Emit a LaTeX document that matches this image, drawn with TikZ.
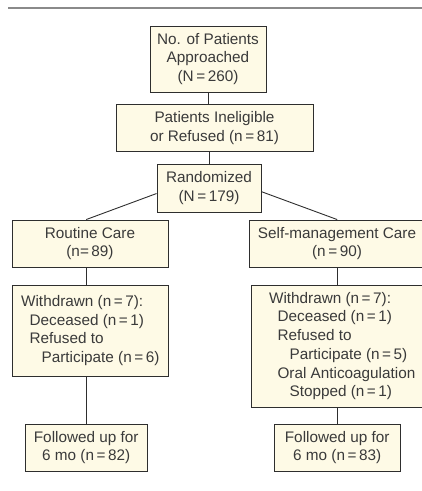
\documentclass[tikz,border=0pt]{standalone}
\usepackage{fontspec}
\setmainfont{Liberation Sans}
\usetikzlibrary{positioning}

\definecolor{boxfill}{HTML}{FEFAE6}
\definecolor{boxline}{HTML}{2E2E2E}
\definecolor{textgray}{HTML}{3A3A3A}
\definecolor{rulegray}{HTML}{8A8A8A}

\newcommand{\indA}{\hspace*{8.5pt}}
\newcommand{\indB}{\hspace*{20.5pt}}

\begin{document}
\begin{tikzpicture}[
  x=1pt, y=-1pt,
  font=\fontsize{15.3}{18.7}\selectfont,
  text=textgray,
  box/.style={draw=boxline, fill=boxfill, line width=0.9pt, align=center, inner sep=0pt},
  listbox/.style={box, align=left},
  link/.style={draw=boxline, line width=0.9pt}
]
\useasboundingbox (0,0) rectangle (422,491);

% rule on top
\draw[rulegray, line width=1.5pt] (8,8) -- (422,8);

\node[box, minimum width=116pt, minimum height=66pt] (approached) at (208,59)
  {No. of Patients\\Approached\\(N\,=\,260)};
\node[box, minimum width=197pt, minimum height=47pt] (ineligible) at (214.5,128)
  {Patients Ineligible\\or Refused (n\,=\,81)};
\node[box, minimum width=104pt, minimum height=48pt] (randomized) at (209,188)
  {Randomized\\(N\,=\,179)};

\node[box, minimum width=156pt, minimum height=47pt] (routine) at (90,243.5)
  {Routine Care\\(n=\,89)};
\node[box, minimum width=176pt, minimum height=47pt] (selfcare) at (337,243.5)
  {Self-management Care\\(n\,=\,90)};

\node[listbox, minimum width=156pt, minimum height=91pt] (withdrawnL) at (90.3,330.5)
  {Withdrawn (n\,=\,7):\\
   \indA Deceased (n\,=\,1)\\
   \indA Refused to\\
   \indB Participate (n\,=\,6)};
\node[listbox, minimum width=182.5pt, minimum height=122pt] (withdrawnR) at (342.2,346)
  {Withdrawn (n\,=\,7):\\
   \indA Deceased (n\,=\,1)\\
   \indA Refused to\\
   \indB Participate (n\,=\,5)\\
   \indA Oral Anticoagulation\\
   \indB Stopped (n\,=\,1)};

\node[box, minimum width=122pt, minimum height=47pt] (followL) at (86.2,447.5)
  {Followed up for\\6 mo (n\,=\,82)};
\node[box, minimum width=125.7pt, minimum height=47pt] (followR) at (337.2,447.5)
  {Followed up for\\6 mo (n\,=\,83)};

% connectors
\draw[link] (approached.south) -- (approached.south |- ineligible.north);
\draw[link] (randomized.north |- ineligible.south) -- (randomized.north);
\draw[link] (randomized.186) -- (followL.north |- routine.north);
\draw[link] (randomized.356) -- (followR.north |- selfcare.north);
\draw[link] (followL.north |- routine.south) -- (followL.north |- withdrawnL.north);
\draw[link] (followL.north |- withdrawnL.south) -- (followL.north);
\draw[link] (followR.north |- selfcare.south) -- (followR.north |- withdrawnR.north);
\draw[link] (followR.north |- withdrawnR.south) -- (followR.north);

\end{tikzpicture}
\end{document}
